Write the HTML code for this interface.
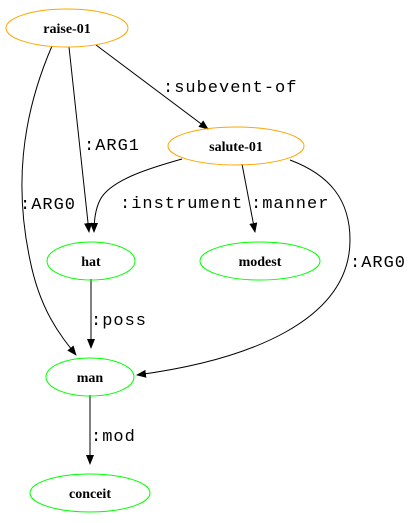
<!DOCTYPE html>
<html><head><style>body{margin:0;background:#fff}svg{display:block}</style></head><body>
<svg width="409" height="523" viewBox="0 0 409 523" xmlns="http://www.w3.org/2000/svg">
<defs><marker id="a" markerWidth="10" markerHeight="8" refX="9" refY="4" orient="auto" markerUnits="userSpaceOnUse"><path d="M0,0L10,4L0,8z" fill="#000"/></marker></defs>
<g fill="none" stroke="#000" stroke-width="1">
<path d="M96,45 L208,129" marker-end="url(#a)"/>
<path d="M69,47 L89,232" marker-end="url(#a)"/>
<path d="M52,46 C20,120 15,190 30,260 C40,310 60,335 76,355" marker-end="url(#a)"/>
<path d="M182,159 C150,168 110,180 100,200 C95,210 94,222 94,232" marker-end="url(#a)"/>
<path d="M242,164 L255,232" marker-end="url(#a)"/>
<path d="M290,160 C330,175 350,200 350,240 C350,320 250,360 137,375" marker-end="url(#a)"/>
<path d="M91,279 L91,348" marker-end="url(#a)"/>
<path d="M90,395 L90,464" marker-end="url(#a)"/>
</g>
<g fill="none" stroke-width="1">
<ellipse cx="67" cy="28" rx="61" ry="19" stroke="#ffa500"/>
<ellipse cx="236" cy="146" rx="68" ry="19" stroke="#ffa500"/>
<ellipse cx="91" cy="261" rx="44" ry="19" stroke="#00ff00"/>
<ellipse cx="260" cy="261" rx="60" ry="19" stroke="#00ff00"/>
<ellipse cx="90" cy="377" rx="44" ry="19" stroke="#00ff00"/>
<ellipse cx="90" cy="493" rx="60" ry="19" stroke="#00ff00"/>
</g>
<g font-family="Liberation Serif, serif" font-weight="bold" font-size="14" text-anchor="middle">
<text x="67" y="33">raise-01</text>
<text x="236" y="151">salute-01</text>
<text x="91" y="266">hat</text>
<text x="260" y="266">modest</text>
<text x="90" y="382">man</text>
<text x="90" y="498">conceit</text>
</g>
<g font-family="Liberation Mono, monospace" font-size="17" letter-spacing="1">
<text x="163" y="92">:subevent-of</text>
<text x="84" y="150">:ARG1</text>
<text x="20" y="209">:ARG0</text>
<text x="120" y="208">:instrument</text>
<text x="251" y="208">:manner</text>
<text x="350" y="267">:ARG0</text>
<text x="91" y="325">:poss</text>
<text x="91" y="441">:mod</text>
</g>
</svg>
</body></html>
